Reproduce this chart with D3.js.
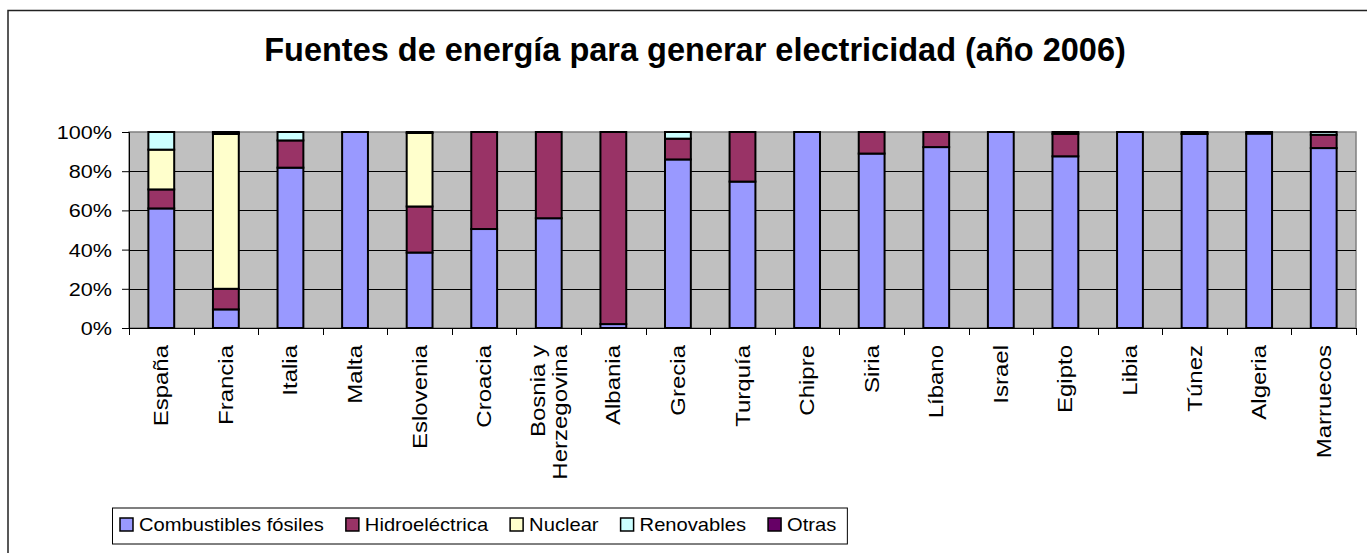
<!DOCTYPE html>
<html>
<head>
<meta charset="utf-8">
<script src="https://cdn.jsdelivr.net/npm/d3@7"></script>
<style>
  body { margin: 0; background: #fff; }
  svg { display: block; font-family: Arial, "Liberation Sans", sans-serif; }
</style>
</head>
<body>
<svg width="1367" height="553"></svg>
<script>
// ---- data (percent of electricity generation, 2006) ----
const countries = ["España", "Francia", "Italia", "Malta", "Eslovenia", "Croacia",
  "Bosnia y Herzegovina", "Albania", "Grecia", "Turquía", "Chipre", "Siria",
  "Líbano", "Israel", "Egipto", "Libia", "Túnez", "Algeria", "Marruecos"];
const fosiles =     [61, 9.5, 81.8, 100, 38.5, 50.5, 56, 2, 86, 74.7, 100, 89, 92.3, 100, 87.6, 100, 99, 99.2, 91.8];
const hidro =       [9.7, 10.5, 13.9, 0, 23.5, 49.5, 44, 98, 10.6, 25.3, 0, 11, 7.7, 0, 11.5, 0, 0.2, 0.8, 6.8];
const nuclear =     [20.3, 79, 0, 0, 37.5, 0, 0, 0, 0, 0, 0, 0, 0, 0, 0, 0, 0, 0, 0];
const renovables =  [9, 0.5, 4.3, 0, 0, 0, 0, 0, 3.4, 0, 0, 0, 0, 0, 0.9, 0, 0.8, 0, 1.4];
const otras =       [0, 0.5, 0, 0, 0.5, 0, 0, 0, 0, 0, 0, 0, 0, 0, 0, 0, 0, 0, 0];

const seriesNames = ["Combustibles fósiles", "Hidroeléctrica", "Nuclear", "Renovables", "Otras"];
const seriesKeys = ["fosiles", "hidro", "nuclear", "renovables", "otras"];
const colors = ["#9999FF", "#993366", "#FFFFCC", "#CCFFFF", "#660066"];
const yTicks = [0, 20, 40, 60, 80, 100];

const title = "Fuentes de energía para generar electricidad (año 2006)";

// ---- layout ----
const plot = { left: 129, right: 1356, top: 132, bottom: 328 };
const stretch = 1.2; // small text in the original renders wide

const svg = d3.select("svg");

// outer chart border (runs off the right and bottom edges)
svg.append("rect")
  .attr("x", 8).attr("y", 10.5)
  .attr("width", 1400).attr("height", 600)
  .attr("fill", "#fff")
  .attr("stroke", "#222")
  .attr("stroke-width", 1.5);

svg.append("text")
  .attr("x", 695).attr("y", 61)
  .attr("text-anchor", "middle")
  .attr("font-size", 32.5)
  .attr("font-weight", "bold")
  .text(title);

const rows = countries.map((c, i) => ({
  country: c,
  fosiles: fosiles[i],
  hidro: hidro[i],
  nuclear: nuclear[i],
  renovables: renovables[i],
  otras: otras[i]
}));

const x = d3.scaleBand()
  .domain(countries)
  .range([plot.left, plot.right])
  .paddingInner(0.6)
  .paddingOuter(0.3);

const y = d3.scaleLinear()
  .domain([0, 100])
  .range([plot.bottom, plot.top]);

// plot background
svg.append("rect")
  .attr("x", plot.left).attr("y", plot.top)
  .attr("width", plot.right - plot.left)
  .attr("height", plot.bottom - plot.top)
  .attr("fill", "#C0C0C0")
  .attr("stroke", "#808080")
  .attr("stroke-width", 1.5);

// horizontal gridlines
svg.append("g")
  .selectAll("line")
  .data(yTicks.filter(t => t > 0 && t < 100))
  .join("line")
  .attr("x1", plot.left).attr("x2", plot.right)
  .attr("y1", d => Math.round(y(d)) + 0.5)
  .attr("y2", d => Math.round(y(d)) + 0.5)
  .attr("stroke", "#000")
  .attr("stroke-width", 1);

// y axis
const yAxis = d3.axisLeft(y)
  .tickValues(yTicks)
  .tickFormat(d => d + "%")
  .tickSize(7)
  .tickPadding(10);

svg.append("g")
  .attr("transform", "translate(" + plot.left + ",0)")
  .call(yAxis)
  .call(g => g.select(".domain").attr("stroke", "#000"))
  .call(g => g.selectAll(".tick line").attr("stroke", "#000"))
  .call(g => g.selectAll("text")
    .attr("font-size", 18)
    .attr("font-family", "Arial, 'Liberation Sans', sans-serif")
    .attr("fill", "#000")
    .attr("x", -17 / stretch)
    .attr("dy", "0.36em")
    .attr("transform", "scale(" + stretch + ",1)"));

// stacked bars
const stack = d3.stack().keys(seriesKeys);
const layers = stack(rows);

svg.append("g")
  .selectAll("g")
  .data(layers)
  .join("g")
  .attr("fill", (d, i) => colors[i])
  .selectAll("rect")
  .data(d => d.filter(s => s[1] - s[0] > 0))
  .join("rect")
  .attr("x", d => x(d.data.country))
  .attr("y", d => y(d[1]))
  .attr("width", x.bandwidth())
  .attr("height", d => y(d[0]) - y(d[1]))
  .attr("stroke", "#000")
  .attr("stroke-width", 2);

// x axis: line + category ticks at slot boundaries
const step = x.step();
const xAxisG = svg.append("g");
xAxisG.append("line")
  .attr("x1", plot.left).attr("x2", plot.right)
  .attr("y1", plot.bottom + 0.5).attr("y2", plot.bottom + 0.5)
  .attr("stroke", "#000");
xAxisG.selectAll(".xtick")
  .data(d3.range(countries.length + 1))
  .join("line")
  .attr("class", "xtick")
  .attr("x1", i => Math.round(plot.left + i * step) + 0.5)
  .attr("x2", i => Math.round(plot.left + i * step) + 0.5)
  .attr("y1", plot.bottom)
  .attr("y2", plot.bottom + 7)
  .attr("stroke", "#000");

// rotated category labels (wrap the long one)
const wrapped = {"Bosnia y Herzegovina": ["Bosnia y", "Herzegovina"]};
const labelSize = 20;
countries.forEach(c => {
  const lines = wrapped[c] || [c];
  const cx = x(c) + x.bandwidth() / 2;
  lines.forEach((ln, j) => {
    const off = (j - (lines.length - 1) / 2) * labelSize * 1.1;
    svg.append("text")
      .attr("transform", "translate(" + (cx + off + labelSize * 0.35) + "," + (plot.bottom + 17) +
        ") rotate(-90) scale(" + stretch + ",1)")
      .attr("text-anchor", "end")
      .attr("font-size", labelSize)
      .text(ln);
  });
});

// legend
const legend = svg.append("g");
const legY = 508, legH = 36, legX = 112.5;
const legendFont = 18, legendStretch = 1.12, itemGap = 22, box = 13;
let cursor = legX + 7.5;
const items = legend.selectAll("g.item")
  .data(seriesNames)
  .join("g")
  .attr("class", "item");
items.each(function (name, i) {
  const g = d3.select(this);
  g.append("rect")
    .attr("x", cursor).attr("y", legY + 10)
    .attr("width", box).attr("height", box)
    .attr("fill", colors[i])
    .attr("stroke", "#000")
    .attr("stroke-width", 1.5);
  const tx = cursor + box + 6;
  const t = g.append("text")
    .attr("transform", "translate(" + tx + "," + (legY + 23) + ") scale(" + legendStretch + ",1)")
    .attr("font-size", legendFont)
    .text(name);
  cursor = tx + t.node().getComputedTextLength() * legendStretch + itemGap;
});
legend.insert("rect", ":first-child")
  .attr("x", legX).attr("y", legY)
  .attr("width", cursor - itemGap - legX + 11)
  .attr("height", legH)
  .attr("fill", "#fff")
  .attr("stroke", "#000")
  .attr("stroke-width", 1);
</script>
</body>
</html>
